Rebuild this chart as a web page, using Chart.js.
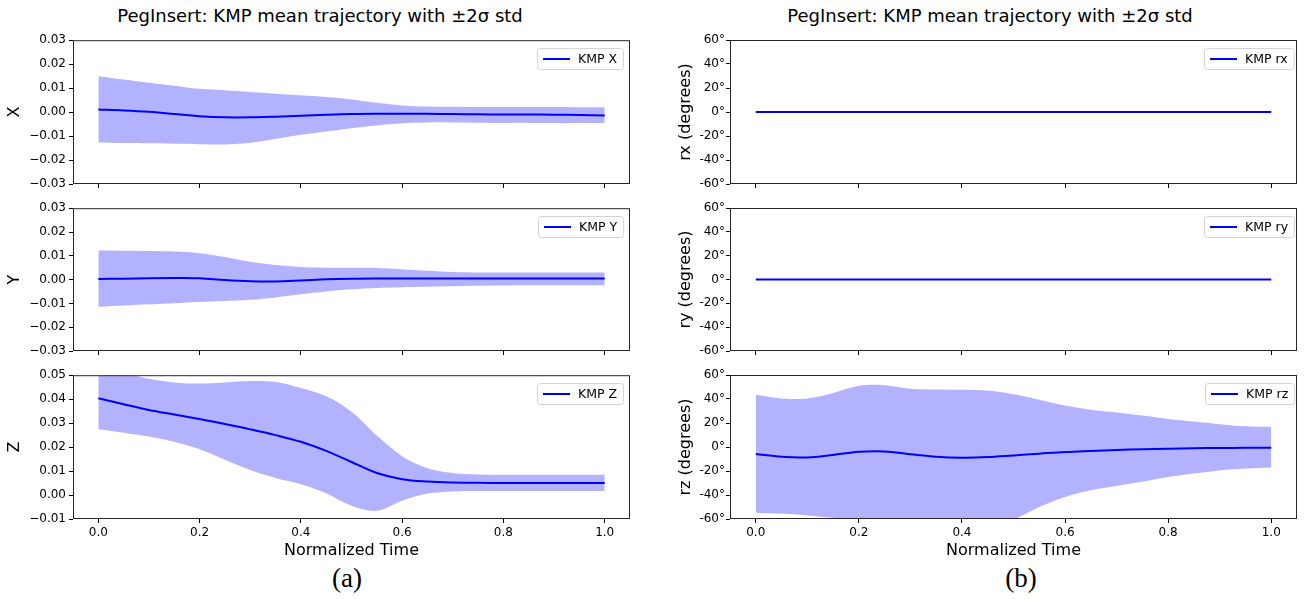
<!DOCTYPE html>
<html lang="en">
<head>
<meta charset="UTF-8">
<title>PegInsert: KMP mean trajectory</title>
<script src="https://cdn.jsdelivr.net/npm/chart.js@4.4.0/dist/chart.umd.min.js"></script>
<style>
  body { margin: 0; background: #fff; width: 1307px; height: 599px; position: relative; overflow: hidden; font-family: "DejaVu Sans", sans-serif; }
  canvas { position: absolute; }
  .title { position: absolute; top: 6px; font-size: 18px; line-height: 20px; white-space: nowrap; transform: translateX(-50%); color: #000; }
  .cap { position: absolute; top: 563px; font-family: "Liberation Serif", serif; font-size: 27px; line-height: 30px; transform: translateX(-50%); color: #000; }
</style>
</head>
<body>
  <div class="title" style="left:320px">PegInsert: KMP mean trajectory with ±2σ std</div>
  <div class="title" style="left:990px">PegInsert: KMP mean trajectory with ±2σ std</div>

  <canvas id="c_x"  width="640" height="166" style="left:0;top:30px"></canvas>
  <canvas id="c_y"  width="640" height="165" style="left:0;top:198px"></canvas>
  <canvas id="c_z"  width="640" height="195" style="left:0;top:365px"></canvas>
  <canvas id="c_rx" width="637" height="166" style="left:670px;top:30px"></canvas>
  <canvas id="c_ry" width="637" height="165" style="left:670px;top:198px"></canvas>
  <canvas id="c_rz" width="637" height="195" style="left:670px;top:365px"></canvas>

  <div class="cap" style="left:347px">(a)</div>
  <div class="cap" style="left:1021px">(b)</div>

<script>
// normalized time samples
var t = [0, 0.05, 0.1, 0.15, 0.2, 0.25, 0.3, 0.35, 0.4, 0.45, 0.5, 0.55, 0.6, 0.65, 0.7, 0.75, 0.8, 0.85, 0.9, 0.95, 1.0];

var xTicks = [0, 0.2, 0.4, 0.6, 0.8, 1.0];
var posTicks = [-0.03, -0.02, -0.01, 0, 0.01, 0.02, 0.03];
var zTicks = [-0.01, 0, 0.01, 0.02, 0.03, 0.04, 0.05];
var degTicks = [-60, -40, -20, 0, 20, 40, 60];

// X
var xMean  = [0.0011, 0.0007, 0.0001, -0.0008, -0.0017, -0.0022, -0.0022, -0.0019, -0.0015, -0.0011, -0.0008, -0.0007, -0.0007, -0.0007, -0.0008, -0.0009, -0.001, -0.001, -0.0011, -0.0012, -0.0014];
var xUpper = [0.015, 0.0136, 0.0122, 0.011, 0.0097, 0.0091, 0.0084, 0.0077, 0.007, 0.0063, 0.0053, 0.0039, 0.0028, 0.0023, 0.0022, 0.0021, 0.0021, 0.0021, 0.0021, 0.002, 0.002];
var xLower = [-0.0127, -0.0129, -0.013, -0.0132, -0.0134, -0.0135, -0.0128, -0.0112, -0.0095, -0.0081, -0.0067, -0.0056, -0.0047, -0.0043, -0.0043, -0.0044, -0.0045, -0.0045, -0.0046, -0.0046, -0.0046];

// Y
var yMean  = [0.0003, 0.0004, 0.0006, 0.0007, 0.0006, -0.0002, -0.0007, -0.0008, -0.0004, 0.0001, 0.0004, 0.0005, 0.0005, 0.0005, 0.0005, 0.0005, 0.0005, 0.0005, 0.0005, 0.0005, 0.0005];
var yUpper = [0.0122, 0.0121, 0.012, 0.0118, 0.0111, 0.0095, 0.0075, 0.0061, 0.0053, 0.005, 0.005, 0.0049, 0.0044, 0.0037, 0.0032, 0.003, 0.003, 0.003, 0.003, 0.003, 0.003];
var yLower = [-0.0114, -0.0109, -0.0104, -0.0099, -0.0094, -0.009, -0.0085, -0.0075, -0.0062, -0.005, -0.0041, -0.0035, -0.0032, -0.003, -0.0028, -0.0026, -0.0025, -0.0024, -0.0024, -0.0024, -0.0024];

// Z
var zMean  = [0.0404, 0.0379, 0.0355, 0.0336, 0.0317, 0.0296, 0.0274, 0.025, 0.0222, 0.0184, 0.0138, 0.0092, 0.0066, 0.0056, 0.0052, 0.0051, 0.005, 0.005, 0.005, 0.005, 0.005];
var zUpper = [0.053, 0.051, 0.0485, 0.047, 0.0465, 0.047, 0.0476, 0.0472, 0.0447, 0.0412, 0.0348, 0.0248, 0.0162, 0.0112, 0.0092, 0.0086, 0.0085, 0.0085, 0.0085, 0.0085, 0.0085];
var zLower = [0.0274, 0.026, 0.0244, 0.0222, 0.0191, 0.0147, 0.0104, 0.0071, 0.0045, 0.0007, -0.0045, -0.0066, -0.0024, 0.0006, 0.0015, 0.0017, 0.0017, 0.0017, 0.0017, 0.0017, 0.0017];

// rx, ry (flat at zero, no visible spread)
var rxMean = [0, 0, 0, 0, 0, 0, 0, 0, 0, 0, 0, 0, 0, 0, 0, 0, 0, 0, 0, 0, 0];
var ryMean = [0, 0, 0, 0, 0, 0, 0, 0, 0, 0, 0, 0, 0, 0, 0, 0, 0, 0, 0, 0, 0];

// rz
var rzMean  = [-5.9, -8.2, -8.7, -6.6, -4.0, -3.7, -6.0, -8.1, -8.9, -8.4, -7.0, -5.6, -4.2, -3.3, -2.5, -1.9, -1.4, -1.1, -0.8, -0.7, -0.6];
var rzUpper = [43.5, 40.5, 40.5, 45, 51, 51.5, 48.6, 48, 47.7, 47, 44, 39.4, 34.6, 31, 28.7, 26.2, 23.4, 21.2, 19, 17.3, 16.7];
var rzLower = [-54.7, -55.5, -57, -59, -60.5, -62, -63, -64, -64, -62, -60, -50, -41.6, -36, -32.4, -29, -25, -22, -19.5, -17.9, -17];

var BLUE = '#0000ff';
var BAND = 'rgba(0,0,255,0.3)';
var TENSION = 0.35;

// axes frame + matplotlib-like legend box inside the plot
var frameLegend = {
  id: 'frameLegend',
  afterDraw: function(chart, args, o) {
    var ctx = chart.ctx, a = chart.chartArea;
    ctx.save();
    ctx.strokeStyle = '#262626';
    ctx.lineWidth = 1;
    ctx.strokeRect(a.left + 0.5, a.top + 0.5, a.right - a.left - 1, a.bottom - a.top - 1);

    ctx.font = '12.5px "DejaVu Sans"';
    var tw = ctx.measureText(o.text).width;
    var w = 47 + tw, h = 21;
    var x = Math.round(a.right - o.gap - w), y = Math.round(a.top + 8);
    ctx.beginPath();
    ctx.roundRect(x + 0.5, y + 0.5, w, h, 3);
    ctx.fillStyle = 'rgba(255,255,255,0.8)';
    ctx.fill();
    ctx.strokeStyle = '#d4d4d4';
    ctx.stroke();
    ctx.beginPath();
    ctx.moveTo(x + 6, y + h / 2 + 0.5);
    ctx.lineTo(x + 33, y + h / 2 + 0.5);
    ctx.strokeStyle = BLUE;
    ctx.lineWidth = 2;
    ctx.stroke();
    ctx.fillStyle = '#000';
    ctx.textBaseline = 'middle';
    ctx.fillText(o.text, x + 41, y + h / 2 + 1);
    ctx.restore();
  }
};

function pts(ys) {
  return t.map(function(v, i) { return { x: v, y: ys[i] }; });
}

function fmtPos(v) {
  var s = Math.abs(v).toFixed(2);
  return v < -1e-9 ? '\u2212' + s : s;
}
function fmtDeg(v) {
  return v + '°';
}

function makeChart(id, c) {
  var datasets = [
    { data: pts(c.mean), borderColor: BLUE, borderWidth: 2, pointRadius: 0, fill: false, tension: TENSION }
  ];
  if (c.upper) {
    datasets.push({ data: pts(c.upper), borderColor: 'rgba(0,0,0,0)', borderWidth: 1, pointRadius: 0, fill: false, tension: TENSION });
    datasets.push({ data: pts(c.lower), borderColor: 'rgba(0,0,0,0)', borderWidth: 1, pointRadius: 0, fill: 1, backgroundColor: BAND, tension: TENSION });
  }

  return new Chart(document.getElementById(id), {
    type: 'line',
    data: { datasets: datasets },
    options: {
      responsive: false,
      animation: false,
      layout: { padding: { top: 10, right: 10, left: 0, bottom: 0 } },
      plugins: {
        legend: { display: false },
        tooltip: { enabled: false },
        frameLegend: { text: c.label, gap: c.gap }
      },
      scales: {
        x: {
          type: 'linear',
          min: -0.05,
          max: 1.05,
          afterBuildTicks: function(s) { s.ticks = xTicks.map(function(v) { return { value: v }; }); },
          afterFit: function(s) { s.height = c.bottom ? 41 : 12; },
          grid: { drawOnChartArea: false, drawTicks: true, tickLength: 4, color: '#000', tickColor: '#000' },
          border: { display: false },
          ticks: {
            display: !!c.bottom,
            padding: 3,
            color: '#000',
            font: { family: 'DejaVu Sans', size: 12 },
            maxRotation: 0,
            callback: function(v) { return v.toFixed(1); }
          },
          title: {
            display: !!c.bottom,
            text: 'Normalized Time',
            color: '#000',
            font: { family: 'DejaVu Sans', size: 16 },
            padding: { top: 4, bottom: 0 }
          }
        },
        y: {
          min: c.yTicks[0],
          max: c.yTicks[c.yTicks.length - 1],
          afterBuildTicks: function(s) { s.ticks = c.yTicks.map(function(v) { return { value: v }; }); },
          afterFit: function(s) { s.width = c.yWidth; },
          grid: { drawOnChartArea: false, drawTicks: true, tickLength: 4, color: '#000', tickColor: '#000' },
          border: { display: false },
          ticks: {
            padding: c.tickPad,
            color: '#000',
            font: { family: 'DejaVu Sans', size: 12 },
            callback: c.fmt
          },
          title: {
            display: true,
            text: c.yTitle,
            color: '#000',
            font: { family: 'DejaVu Sans', size: 16 },
            padding: { top: c.titlePad, bottom: 0 }
          }
        }
      }
    },
    plugins: [frameLegend]
  });
}

makeChart('c_x', { mean: xMean, upper: xUpper, lower: xLower, label: 'KMP X', yTitle: 'X', yTicks: posTicks, fmt: fmtPos, yWidth: 73, tickPad: 3, titlePad: 5, gap: 7 });
makeChart('c_y', { mean: yMean, upper: yUpper, lower: yLower, label: 'KMP Y', yTitle: 'Y', yTicks: posTicks, fmt: fmtPos, yWidth: 73, tickPad: 3, titlePad: 5, gap: 7 });
makeChart('c_z', { mean: zMean, upper: zUpper, lower: zLower, label: 'KMP Z', yTitle: 'Z', yTicks: zTicks, fmt: fmtPos, yWidth: 73, tickPad: 3, titlePad: 5, gap: 7, bottom: true });

makeChart('c_rx', { mean: rxMean, label: 'KMP rx', yTitle: 'rx (degrees)', yTicks: degTicks, fmt: fmtDeg, yWidth: 60, tickPad: 1, titlePad: 6, gap: 3 });
makeChart('c_ry', { mean: ryMean, label: 'KMP ry', yTitle: 'ry (degrees)', yTicks: degTicks, fmt: fmtDeg, yWidth: 60, tickPad: 1, titlePad: 6, gap: 3 });
makeChart('c_rz', { mean: rzMean, upper: rzUpper, lower: rzLower, label: 'KMP rz', yTitle: 'rz (degrees)', yTicks: degTicks, fmt: fmtDeg, yWidth: 60, tickPad: 1, titlePad: 6, gap: 3, bottom: true });
</script>
</body>
</html>
